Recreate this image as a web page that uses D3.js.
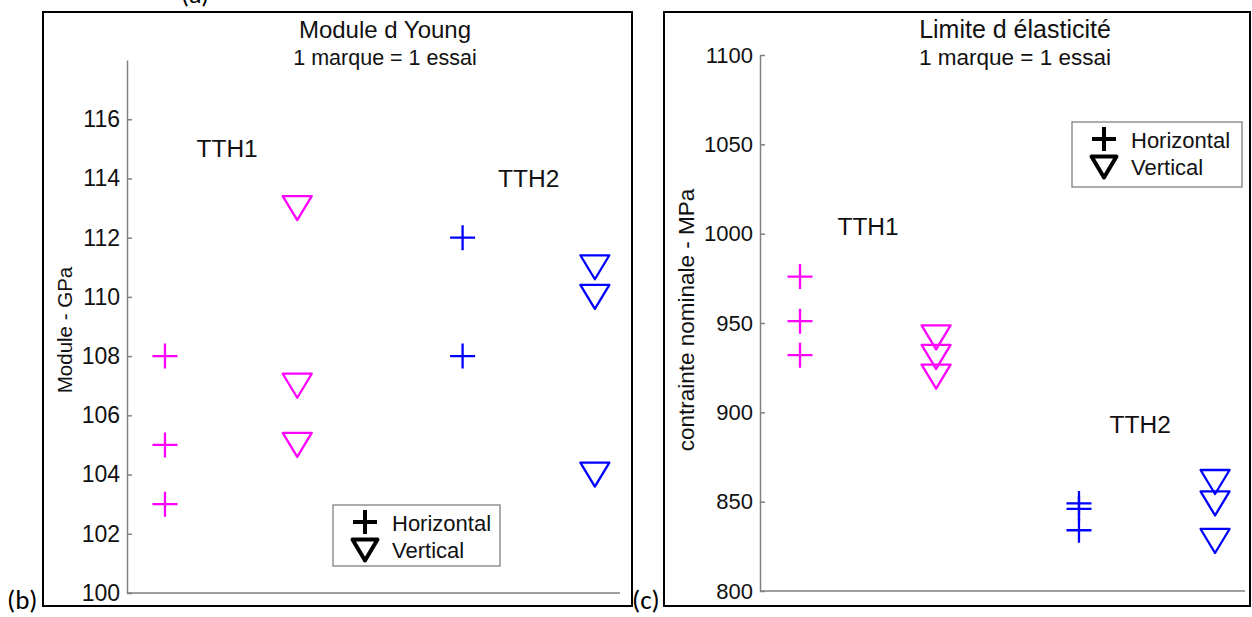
<!DOCTYPE html>
<html><head><meta charset="utf-8">
<script src="https://cdn.jsdelivr.net/npm/d3@7"></script>
<style>
body{margin:0;background:#fff;}
svg{display:block;font-family:"Liberation Sans",Arial,sans-serif;}
</style></head>
<body><svg id="c" width="1252" height="617"></svg>
<script>
// ---- Data: Module d'Young (GPa) ----
const youngCategories = ["TTH1 Horizontal","TTH1 Vertical","TTH2 Horizontal","TTH2 Vertical"];
const youngX = [1, 2, 3.25, 4.25];
const youngTTH1H = [108, 105, 103];
const youngTTH1V = [113, 107, 105];
const youngTTH2H = [112, 108];
const youngTTH2V = [111, 110, 104];
const youngTicks = [100,102,104,106,108,110,112,114,116];

// ---- Data: Limite d'élasticité (MPa) ----
const elasX = [1, 2, 3.05, 4.05];
const elasTTH1H = [976, 951, 932];
const elasTTH1V = [942, 931, 920];
const elasTTH2H = [849, 846, 834];
const elasTTH2V = [861, 849, 828];
const elasTicks = [800,850,900,950,1000,1050,1100];

const magenta = "#ff00ff", blue = "#0000ff";
const svg = d3.select("#c");

function panel(cfg){
  const g = svg.append("g");
  g.append("rect").attr("x",cfg.box[0]).attr("y",cfg.box[1]).attr("width",cfg.box[2]).attr("height",cfg.box[3])
    .attr("fill","none").attr("stroke","#000").attr("stroke-width",2);
  const x = d3.scaleLinear().domain(cfg.xDomain).range([cfg.left, cfg.right]);
  const y = d3.scaleLinear().domain(cfg.yDomain).range([cfg.bottom, cfg.top]);
  const ya = g.append("g").attr("transform",`translate(${cfg.left},0)`)
    .call(d3.axisLeft(y).tickValues(cfg.ticks).tickFormat(d3.format("d")).tickSize(-5).tickSizeOuter(0).tickPadding(cfg.tickPad));
  ya.attr("font-family",null).attr("font-size",null);
  ya.select(".domain").attr("stroke","#808080").attr("stroke-width",1.5);
  ya.selectAll(".tick line").attr("stroke","#808080").attr("stroke-width",1.5);
  ya.selectAll(".tick text").attr("font-size",cfg.tickFont).attr("fill","#111");
  g.append("line").attr("x1",cfg.left).attr("x2",cfg.right).attr("y1",cfg.bottom).attr("y2",cfg.bottom)
    .attr("stroke","#808080").attr("stroke-width",1.5);
  g.append("text").attr("transform",`translate(${cfg.ylabX},${cfg.ylabY}) rotate(-90)`)
    .attr("text-anchor","middle").attr("font-size",cfg.ylabFont).attr("fill","#111").text(cfg.ylabel);
  g.append("text").attr("x",cfg.titleX).attr("y",38).attr("text-anchor","middle").attr("font-size",cfg.titleFont).attr("fill","#111").text(cfg.title);
  g.append("text").attr("x",cfg.titleX).attr("y",65).attr("text-anchor","middle").attr("font-size",cfg.subFont).attr("fill","#111").text("1 marque = 1 essai");
  const plus = (sel, cx, cy, color, s, sw) => {
    sel.append("path").attr("d",`M${cx-s},${cy}H${cx+s}M${cx},${cy-s}V${cy+s}`)
      .attr("stroke",color).attr("stroke-width",sw).attr("fill","none");
  };
  const tri = (sel, cx, cy, color, w, h, sw) => {
    sel.append("path").attr("d",`M${cx-w},${cy-h}L${cx+w},${cy-h}L${cx},${cy+h}Z`)
      .attr("stroke",color).attr("stroke-width",sw).attr("fill","none").attr("stroke-linejoin","round");
  };
  cfg.series.forEach((s,i)=>{
    s.vals.forEach(v=>{
      if(s.type==="plus") plus(g, x(cfg.xs[i]), y(v), s.color, 12.5, 2.3);
      else tri(g, x(cfg.xs[i]), y(v), s.color, 14.5, 12, 2.3);
    });
  });
  cfg.labels.forEach(l=>{
    g.append("text").attr("x",x(l.x)).attr("y",y(l.y)).attr("dy","0.35em").attr("text-anchor","middle")
      .attr("font-size",24.5).attr("fill","#111").text(l.t);
  });
  const L = cfg.legend;
  g.append("rect").attr("x",L[0]).attr("y",L[1]).attr("width",L[2]).attr("height",L[3])
    .attr("fill","#fff").attr("stroke","#808080").attr("stroke-width",1.3);
  plus(g, L[0]+32, L[1]+17, "#000", 12, 4);
  tri(g, L[0]+32, L[1]+45, "#000", 12.5, 10.5, 4);
  g.append("text").attr("x",L[0]+59).attr("y",L[1]+18).attr("dy","0.35em").attr("font-size",cfg.legFont).attr("fill","#111").text("Horizontal");
  g.append("text").attr("x",L[0]+59).attr("y",L[1]+45).attr("dy","0.35em").attr("font-size",cfg.legFont).attr("fill","#111").text("Vertical");
  g.append("text").attr("x",cfg.letter[0]).attr("y",cfg.letter[1]).attr("font-size",27)
    .attr("font-family","Carlito, 'Open Sans', 'Liberation Sans', sans-serif").attr("fill","#000").text(cfg.letter[2]);
}

panel({
  box:[43,12,589,594], left:127, right:620, top:60, bottom:593,
  xDomain:[0.713,4.44], yDomain:[100,118], ticks:youngTicks, xs:youngX, tickFont:23, tickPad:7,
  ylabel:"Module - GPa", ylabX:72, ylabY:330, ylabFont:20.5, title:"Module d Young", titleX:385, titleFont:24, subFont:21.5,
  series:[{vals:youngTTH1H,type:"plus",color:magenta},{vals:youngTTH1V,type:"tri",color:magenta},
          {vals:youngTTH2H,type:"plus",color:blue},{vals:youngTTH2V,type:"tri",color:blue}],
  labels:[{x:1.47,y:115,t:"TTH1"},{x:3.75,y:114,t:"TTH2"}],
  legend:[333,505,167,61], legFont:22, letter:[7,609,"(b)"]
});
panel({
  box:[664,12,586,594], left:760, right:1245, top:55, bottom:591,
  xDomain:[0.706,4.27], yDomain:[800,1100], ticks:elasTicks, xs:elasX, tickFont:22, tickPad:7,
  ylabel:"contrainte nominale - MPa", ylabX:694, ylabY:320, ylabFont:22.5, title:"Limite d élasticité", titleX:1015, titleFont:25, subFont:22.5,
  series:[{vals:elasTTH1H,type:"plus",color:magenta},{vals:elasTTH1V,type:"tri",color:magenta},
          {vals:elasTTH2H,type:"plus",color:blue},{vals:elasTTH2V,type:"tri",color:blue}],
  labels:[{x:1.5,y:1004,t:"TTH1"},{x:3.5,y:893,t:"TTH2"}],
  legend:[1072,122,170,65], legFont:22, letter:[632,609,"(c)"]
});
svg.append("text").attr("x",181).attr("y",3).attr("font-size",26)
  .attr("font-family","Carlito, 'Open Sans', 'Liberation Sans', sans-serif").attr("fill","#000").text("(a)");
</script></body></html>
